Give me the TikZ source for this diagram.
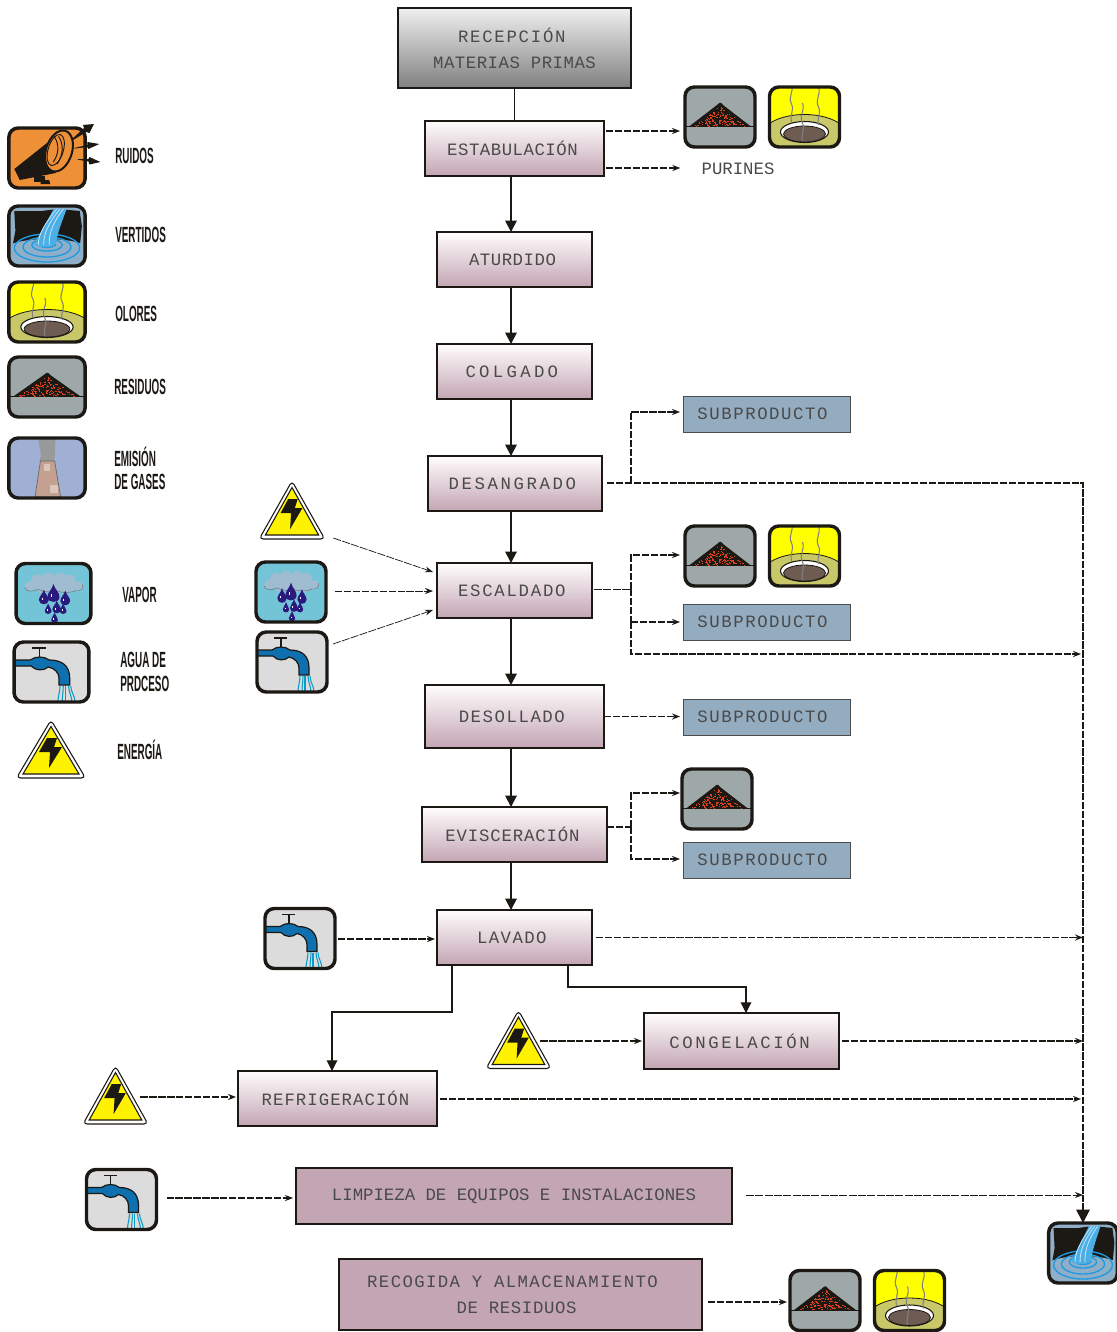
\documentclass[tikz,border=0pt]{standalone}
\usepackage{fontspec}
\usetikzlibrary{arrows.meta,calc}
\setmainfont{Liberation Sans}
\newfontfamily\boxfont{Liberation Mono}
\newfontfamily\legfont[FakeStretch=0.45]{Liberation Sans Bold}
\definecolor{ink}{HTML}{1C1814}
\definecolor{txt}{HTML}{4A4A4A}
% letter spacing, shift to the left in px, text
\newcommand\bt[3]{\raisebox{-4.2pt}{\addfontfeature{LetterSpace=#1}#3}\hspace*{#2pt}}
\newcommand\st[3]{{\addfontfeature{LetterSpace=#1}#3}\hspace*{#2pt}}
\newcommand\iconframe[2]{%
  \begin{scope}
    \clip[rounded corners=7pt] (-35,-30) rectangle (35,30);
    \fill[#1] (-36,-31) rectangle (36,31);
    #2
  \end{scope}
  \draw[ink,line width=2.6pt,rounded corners=7pt] (-35,-30) rectangle (35,30);}
\tikzset{
  boxbase/.style={draw=ink,line width=1.5pt,inner sep=0pt,outer sep=0pt,align=center,text=txt,font=\boxfont\fontsize{13}{19.5}\selectfont},
  graybox/.style={boxbase,top color=white!94!black,bottom color=black!50!white},
  pinkbox/.style={boxbase,top color=white!97!pink,bottom color=pile},
  flatbox/.style={boxbase,fill=pile},
  subbox/.style={draw=black!70,line width=.7pt,inner sep=0pt,outer sep=0pt,fill=subcol,text=txt,font=\boxfont\fontsize{13}{14}\selectfont},
  plain/.style={inner sep=0pt,text=txt,font=\boxfont\fontsize{13}{14}\selectfont},
  legend/.style={inner sep=0pt,anchor=west,text=ink,font=\legfont\fontsize{16.5}{18}\selectfont},
  iconbox/.style={inner sep=0pt,outer sep=0pt,minimum width=52.5pt,minimum height=45pt},
  solidarrow/.style={ink,line width=1.4pt,-{Triangle[length=8.5pt,width=8.5pt]}},
  thinarrow/.style={ink,line width=.8pt,-{Triangle[length=8pt,width=8pt]}},
  dashline/.style={ink,line width=1.1pt,dash pattern=on 5.5pt off 1.2pt},
  dasharrow/.style={dashline,-{Stealth[length=6pt,width=4.6pt]}},
  thindash/.style={ink,line width=.55pt,dash pattern=on 6pt off 1pt},
  thinda/.style={thindash,-{Stealth[length=6pt,width=4.4pt]}},
  pics/residuos/.style={code={
    \iconframe{pilebg}{
      \fill[ink] (-31,9.6) -- (-3,-12) .. controls (0,-15) and (1,-15) .. (3,-12) -- (31,9.6) -- cycle;
      \draw[ink,line width=.7pt] (-36,9.8) -- (36,9.8);
      \pgfmathsetseed{11}
      \foreach \k in {1,...,130}{
        \pgfmathsetmacro\ty{sqrt(rnd)}
        \pgfmathsetmacro\tx{2*rnd-1}
        \fill[speck] ({\tx*\ty*27},{-11+\ty*20}) rectangle +(1.3,1);
      }
    }}},
  pics/olores/.style={code={
    \iconframe{smellbg}{
      \fill[ringcol,draw=ink,line width=.6pt] (-37,8) .. controls (-20,-6) and (20,-6) .. (37,8) -- (37,32) -- (-37,32) -- cycle;
      \fill[white,draw=ink,line width=.8pt] (0,15) ellipse (24 and 10.5);
      \fill[mud,draw=ink,line width=.6pt] (0,17) ellipse (21 and 8);
      \foreach \xx/\top in {-13/-33,-2/-14,14/-30}{
        \draw[black!50,line width=.8pt] ({\xx},{\top}) .. controls ({\xx+3},{\top+8}) and ({\xx-4},{\top+12}) .. ({\xx},{\top+20}) .. controls ({\xx+3},{\top+27}) and ({\xx-2},{\top+30}) .. ({\xx},{\top+38});
      }
    }}},
  pics/vertidos/.style={code={
    \iconframe{riverbg}{
      \fill[ink] (-30,-25) -- (-5,-25) -- (10,-27) -- (30,-25) -- (32,-10) -- (30,12) -- (-32,12) -- (-29,-5) -- cycle;
      \fill[riverbg] (-40,32) -- (-40,12) .. controls (-25,0) and (25,0) .. (40,12) -- (40,32) -- cycle;
      \foreach \rx/\ry/\cy in {30/14/12,22/10/11,14/6/9,8/3.5/8}{
        \draw[water,line width=1pt] (0,\cy) ellipse ({\rx} and {\ry});
      }
      \fill[water!80!white] (6,-27) .. controls (-2,-10) and (-8,0) .. (-12,9) .. controls (-4,12) and (3,12) .. (8,8) .. controls (10,-5) and (14,-15) .. (18,-27) -- cycle;
      \foreach \a/\b/\c in {9/-4/-8,12/-1/-3,15/3/2}{
        \draw[white!75!water,line width=.6pt] (\a,-27) .. controls (\b,-10) and (\c,0) .. (\c,9);
      }
    }}},
  pics/gases/.style={code={
    \iconframe{gasbg}{
      \fill[black!40] (-7,-6) .. controls (-3,-18) and (-10,-24) .. (-7,-32) -- (9,-32) .. controls (6,-24) and (9,-18) .. (6,-6) -- cycle;
      \fill[chimney,draw=black!60,line width=.5pt] (-6,-7) -- (7,-7) -- (12.5,29) -- (-11,29) -- cycle;
      \fill[white!40!chimney] (-3,-4) rectangle (3,3);
      \fill[white!40!chimney] (3,17) rectangle (10,25);
    }}},
  pics/ruidos/.style={code={
    \iconframe{noisebg}{
      \fill[ink] (-30,11) -- (0,-15) -- (8,15) -- (-25,22) -- cycle;
      \fill[ink] (-12,18) rectangle (-2,24);
      \fill[ink] (-5,22) -- (2,22) -- (3,26) -- (-6,26) -- cycle;
      \draw[ink,line width=1.5pt,fill=noisebg,rotate around={-15:(11,-7)}] (11,-7) ellipse (12 and 21);
      \draw[ink,line width=.7pt,rotate around={-15:(8,-8)}] (8,-8) ellipse (7 and 16);
      \draw[ink,line width=.7pt,rotate around={-15:(11,-8)}] (7,-21) .. controls (14,-15) and (16,-4) .. (13,6);
      \draw[ink,line width=.7pt,rotate around={-15:(11,-8)}] (3,-20) .. controls (10,-14) and (12,-4) .. (9,5);
    }
    \fill[ink] (23,-19) -- (34,-30) -- (33,-33) -- (43,-34) -- (39,-25) -- (36,-26) -- (24,-18) -- cycle;
    \fill[ink] (25,-10) -- (37,-13) -- (37,-16) -- (48,-14) -- (38,-9) -- (37,-11) -- (25,-9.4) -- cycle;
    \fill[ink] (28,1) -- (38,1) -- (39,-1) -- (49,4) -- (39,6.5) -- (38,3.5) -- (28,1.6) -- cycle;
  }},
  pics/vapor/.style={code={
    \iconframe{steambg}{
      \fill[cloud] (-22,-7) circle (5) (-15,-13) circle (6) (-5,-15) circle (6) (6,-15) circle (6) (15,-13) circle (6) (23,-7) circle (5) (-10,-7) circle (7) (2,-7) circle (8) (13,-7) circle (7);
      \draw[black!60,line width=.3pt] (-27,-6) .. controls (-26,-1) and (-18,-2) .. (-14,-4) .. controls (-8,-1) and (-2,-1) .. (2,-3) .. controls (8,0) and (18,-1) .. (21,-3) .. controls (25,-2) and (29,-5) .. (27,-9);
      \foreach \dx/\dy/\ds in {-9/3/1.15,0/-1/1.4,11/4/1.15,-5/15/.8,3/13/1,9/15/.8,1/24/.8}{
        \begin{scope}[shift={(\dx,\dy)},scale=\ds]
        \fill[drop] (0,-6) .. controls (1,-2) and (4,0) .. (4,3) .. controls (4,8) and (-4,8) .. (-4,3) .. controls (-4,0) and (-1,-2) .. cycle;
        \draw[white,line width=.4pt] (-1.5,1) -- (-1.5,3);
        \end{scope}
      }
    }}},
  pics/grifo/.style={code={
    \iconframe{tapbg}{
      \draw[ink,line width=1.1pt] (-11,-15) -- (-11,-24) (-18,-24) -- (-5,-24);
      \fill[tapblue,draw=ink,line width=.9pt] (-37,-12) -- (-20,-12) .. controls (-15,-16) and (-7,-16) .. (-2,-12) .. controls (10,-12) and (17,-6) .. (17,6) -- (17,13) -- (7,13) -- (7,6) .. controls (7,1) and (3,-4) .. (-3,-5) .. controls (-7,-1) and (-15,-1) .. (-19,-6) -- (-37,-6) -- cycle;
      \foreach \p/\q in {8/6,11/10,13/13,16/19,18/22}{
        \draw[tapblue!70!cyan,line width=.8pt] (\p,14) .. controls (\p,20) and (\q,24) .. (\q,30);
      }
    }}},
  pics/rayo/.style={code={
    \draw[ink,fill=white,line width=.8pt,rounded corners=3pt] (0,-29) -- (34.5,29) -- (-34.5,29) -- cycle;
    \draw[ink,fill=yellow,line width=.8pt] (0,-22.5) -- (28,25) -- (-28,25) -- cycle;
    \fill[ink] (-4,-11) -- (6,-11) -- (3,-2) -- (11,-2) -- (-2,19) -- (-1,3) -- (-12,3) -- cycle;
  }},
}
\definecolor{pile}{HTML}{C3A5B3}
\definecolor{subcol}{HTML}{94ACC0}
\definecolor{pilebg}{HTML}{9EA8A8}
\definecolor{speck}{HTML}{D8421E}
\definecolor{smellbg}{HTML}{FFFF00}
\definecolor{ringcol}{HTML}{C8C868}
\definecolor{mud}{HTML}{6E5C52}
\definecolor{riverbg}{HTML}{8FAFC8}
\definecolor{water}{HTML}{1E9BE0}
\definecolor{gasbg}{HTML}{9FB0D4}
\definecolor{chimney}{HTML}{C4A090}
\definecolor{noisebg}{HTML}{EE9038}
\definecolor{steambg}{HTML}{74C4D8}
\definecolor{cloud}{HTML}{A0BCD0}
\definecolor{drop}{HTML}{2A1A7E}
\definecolor{tapbg}{HTML}{DCDCDC}
\definecolor{tapblue}{HTML}{0F70B0}
\newcommand\bx[7]{\node[#6,minimum width={(#4-#2)*0.75pt},minimum height={(#5-#3)*0.75pt}] (#1) at ({(#2+#4)/2},{(#3+#5)/2}) {#7};}
\newcommand\icon[5]{\node[iconbox,minimum width={#5*52.5pt}] (#1) at (#3,#4) {}; \pic[xscale=#5] at (#1) {#2};}
\begin{document}
\begin{tikzpicture}[x=.75pt,y=-.75pt]
\path[use as bounding box] (0,0) rectangle (1117,1332);
% process boxes
\bx{rec}{398}{8}{631}{88}{graybox}{\bt{10}{4}{RECEPCIÓN}\\\bt{3}{0}{MATERIAS PRIMAS}}
\bx{est}{425}{121}{604}{176}{pinkbox}{\bt{3}{3}{ESTABULACIÓN}}
\bx{atu}{437}{232}{592}{287}{pinkbox}{\bt{3}{3}{ATURDIDO}}
\bx{col}{437}{344}{592}{399}{pinkbox}{\bt{19}{4}{COLGADO}}
\bx{des}{428}{456}{602}{511}{pinkbox}{\bt{15}{4}{DESANGRADO}}
\bx{esc}{437}{563}{592}{618}{pinkbox}{\bt{10}{4}{ESCALDADO}}
\bx{dsl}{425}{685}{604}{748}{pinkbox}{\bt{9}{4}{DESOLLADO}}
\bx{evi}{422}{807}{607}{862}{pinkbox}{\bt{5}{3}{EVISCERACIÓN}}
\bx{lav}{437}{910}{592}{965}{pinkbox}{\bt{8}{4}{LAVADO}}
\bx{con}{644}{1013}{839}{1069}{pinkbox}{\bt{15}{3}{CONGELACIÓN}}
\bx{ref}{238}{1071}{437}{1126}{pinkbox}{\bt{6}{3}{REFRIGERACIÓN}}
\bx{lim}{296}{1168}{732}{1224}{flatbox}{\bt{0}{0}{LIMPIEZA DE EQUIPOS E INSTALACIONES}}
\bx{rcg}{339}{1259}{702}{1330}{flatbox}{\bt{8}{12}{RECOGIDA Y ALMACENAMIENTO}\\\bt{3.5}{6}{DE RESIDUOS}}
% by-product boxes
\bx{sa}{683}{396}{850}{432}{subbox}{\st{9}{6}{SUBPRODUCTO}}
\bx{sb}{683}{604}{850}{640}{subbox}{\st{9}{6}{SUBPRODUCTO}}
\bx{sc}{683}{699}{850}{735}{subbox}{\st{9}{6}{SUBPRODUCTO}}
\bx{sd}{683}{842}{850}{878}{subbox}{\st{9}{6}{SUBPRODUCTO}}
\node[plain] (pur) at (738,169) {PURINES};
% legend
\icon{lr}{ruidos}{47}{158}{1.09}
\icon{lv}{vertidos}{47}{236}{1.09}
\icon{lo}{olores}{47}{312}{1.09}
\icon{ls}{residuos}{47}{387}{1.09}
\icon{lg}{gases}{47}{468}{1.09}
\icon{lp}{vapor}{53.5}{593.5}{1.07}
\icon{lt}{grifo}{51.5}{672}{1.07}
\icon{le}{rayo}{51}{749}{1}
\node[legend] (tr) at (115,156) {RUIDOS};
\node[legend] (tv) at (115,235) {VERTIDOS};
\node[legend] (to) at (115,314) {OLORES};
\node[legend] (ts) at (114,387) {RESIDUOS};
\node[legend] (tg1) at (114,457) {EMISIÓN};
\node[legend] (tg2) at (114,482) {DE GASES};
\node[legend] (tp) at (122,595) {VAPOR};
\node[legend] (ta1) at (120,660) {AGUA DE};
\node[legend] (ta2) at (120,684) {PRDCESO};
\node[legend] (te) at (117,750) {ENERGÍA};
% diagram icons
\icon{r1}{residuos}{720}{117}{1}
\icon{o1}{olores}{804.5}{117}{1}
\icon{r2}{residuos}{720}{556}{1}
\icon{o2}{olores}{804.5}{556}{1}
\icon{r3}{residuos}{717}{799}{1}
\icon{r4}{residuos}{825}{1300.5}{1}
\icon{o4}{olores}{909.5}{1300.5}{1}
\icon{v2}{vertidos}{1083}{1253}{.98}
\icon{e1}{rayo}{292}{510}{.95}
\icon{p1}{vapor}{291}{592}{1}
\icon{t1}{grifo}{292}{662}{1}
\icon{t2}{grifo}{300}{938.5}{1}
\icon{e2}{rayo}{518.5}{1039.5}{.94}
\icon{e3}{rayo}{115.5}{1095}{.94}
\icon{t3}{grifo}{121.5}{1199.5}{1}
% named junctions
\coordinate (axis) at (511,0);
\coordinate (main) at (1083,483);
\coordinate (vj) at (1083,1203);
\coordinate (ja) at (631,483);
\coordinate (jb) at (631,589);
\coordinate (jb2) at (631,622);
\coordinate (jc) at (631,827);
\coordinate (jd) at (1081,654);
% main flow
\draw[ink,line width=.8pt] (rec.south) -- (est.north);
\foreach \a/\b in {est/atu,atu/col,col/des,des/esc,esc/dsl,dsl/evi,evi/lav}{
  \draw[solidarrow] (\a.south -| axis) -- (\b.north -| axis);
}
\draw[thinarrow] ($(lav.south)+(-62.5,0)$) -- ++(0,47) -| ($(ref.north)+(-5.5,0)$);
\draw[thinarrow] ($(lav.south)+(53.5,0)$) -- ++(0,22) -| ($(con.north)+(4.5,0)$);
% estabulacion
\draw[dasharrow] ($(est.east)+(2,-17.5)$) -- ($(r1.west)+(-5,14)$);
\draw[dasharrow] ($(est.east)+(2,19.5)$) -- ($(pur.west)+(-21,-1)$);
% desangrado
\draw[dashline] ($(des.east)+(5,-0.5)$) -- (main) -- (vj);
\draw[solidarrow,-{Triangle[length=10pt,width=10pt]}] (vj) -- (v2.north);
\draw[dasharrow] (ja) |- ($(sa.west)+(-3,-2)$);
% escaldado
\draw[thindash] ($(esc.east)+(2,-1.5)$) -- (jb);
\draw[dasharrow] (jb) |- ($(r2.west)+(-5,-1)$);
\draw[dashline] (jb) -- (jb2);
\draw[dasharrow] (jb2) -- ($(sb.west)+(-3,0)$);
\draw[dasharrow] (jb2) |- (jd);
\draw[thinda] ($(e1.east)+(8,28)$) -- ($(esc.west)+(-4,-18.5)$);
\draw[dasharrow,line width=.7pt] ($(p1.east)+(9,-1)$) -- ($(esc.west)+(-4,0.5)$);
\draw[thinda] ($(t1.east)+(6,-18)$) -- ($(esc.west)+(-4,19.5)$);
% desollado, evisceracion
\draw[dasharrow] (dsl.east) -- ($(sc.west)+(-3,-0.5)$);
\draw[dashline] ($(evi.east)+(0,-7.5)$) -- (jc);
\draw[dasharrow] (jc) |- ($(r3.west)+(-2,-6)$);
\draw[dasharrow] (jc) |- ($(sd.west)+(-3,-1)$);
% lavado and later
\draw[dasharrow] ($(t2.east)+(3,0.5)$) -- ($(lav.west)+(-2,1.5)$);
\draw[dasharrow] ($(lav.east)+(4,0)$) -- (lav.east -| main);
\draw[dasharrow] ($(e2.east)+(-11,1.5)$) -- ($(con.west)+(-2,0)$);
\draw[dasharrow] ($(con.east)+(3,0)$) -- (con.east -| main);
\draw[dasharrow] ($(e3.east)+(-8,2)$) -- ($(ref.west)+(-2,-1.5)$);
\draw[dasharrow] ($(ref.east)+(3,0.5)$) -- ($(ref.east -| main)+(-2,0.5)$);
\draw[dasharrow,line width=.8pt] ($(t3.east)+(10,-1.5)$) -- ($(lim.west)+(-3,2)$);
\draw[thinda] ($(lim.east)+(14,-1)$) -- ($(lim.east -| main)+(0,-1)$);
\draw[dasharrow] ($(rcg.east)+(6,7.5)$) -- ($(r4.west)+(-3,1.5)$);
\end{tikzpicture}
\end{document}
